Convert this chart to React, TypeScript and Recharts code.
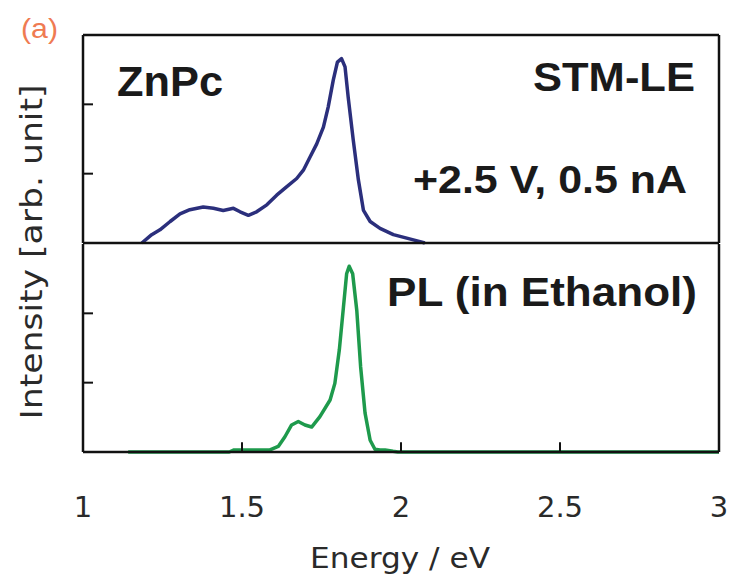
import { LineChart, Line, XAxis, YAxis, ReferenceLine } from 'recharts';

// STM light emission spectrum (top panel)
const stmEnergy = [
  1.185, 1.216, 1.242, 1.274, 1.305, 1.336, 1.378, 1.41, 1.441, 1.473, 1.494, 1.52, 1.546, 1.578,
  1.609, 1.64, 1.672, 1.693, 1.714, 1.735, 1.756, 1.771, 1.787, 1.8, 1.813, 1.824, 1.834, 1.85,
  1.866, 1.882, 1.903, 1.934, 1.976, 2.018, 2.06, 2.075,
];
const stmIntensity = [
  0, 0.12, 0.19, 0.31, 0.42, 0.48, 0.52, 0.5, 0.47, 0.5, 0.45, 0.4, 0.45, 0.55,
  0.69, 0.81, 0.93, 1.05, 1.24, 1.43, 1.67, 1.96, 2.35, 2.61, 2.66, 2.54, 2.1, 1.48,
  0.91, 0.47, 0.31, 0.21, 0.12, 0.07, 0.02, 0,
];

// photoluminescence spectrum in ethanol (bottom panel)
const plEnergy = [
  1.142, 1.46, 1.475, 1.58, 1.588, 1.614, 1.635, 1.656, 1.677, 1.698, 1.719, 1.745, 1.777, 1.792,
  1.806, 1.819, 1.829, 1.837, 1.848, 1.861, 1.873, 1.887, 1.903, 1.918, 1.934, 1.95, 1.975, 1.99, 3,
];
const plIntensity = [
  0, 0, 0.03, 0.03, 0.03, 0.08, 0.22, 0.39, 0.44, 0.39, 0.36, 0.51, 0.75, 0.99,
  1.47, 2.09, 2.57, 2.68, 2.57, 2.04, 1.23, 0.56, 0.17, 0.04, 0.03, 0.03, 0.01, 0, 0,
];

const energyTicks = [1, 1.5, 2, 2.5, 3];
const innerEnergyTicks = [1.5, 2, 2.5];
const intensityTicks = [1, 2];

const stmRows = stmEnergy.map((energy, i) => ({ energy, intensity: stmIntensity[i] }));
const plRows = plEnergy.map((energy, i) => ({ energy, intensity: plIntensity[i] }));

const W = 729;
const H = 582;
const frame = { stroke: '#111', strokeWidth: 2.5 };
const tickStroke = { stroke: '#111', strokeWidth: 2 };
const boldFont = "'Liberation Sans', Arial, sans-serif";
const plainFont = "'DejaVu Sans', sans-serif";
const noLabel = () => '';
// length of the inward energy ticks, in intensity units
const TICK_LEN = 0.14;

export default function App() {
  return (
    <div style={{ position: 'absolute', left: 0, top: 0, width: W, height: H, background: '#fff' }}>
      {/* upper panel */}
      <div style={{ position: 'absolute', left: 0, top: 0 }}>
        <LineChart width={W} height={H} data={stmRows} margin={{ top: 35, right: 10, bottom: H - 243, left: 83 }}>
          <XAxis dataKey="energy" type="number" domain={[1, 3]} ticks={energyTicks} mirror tick={false} tickLine={false} axisLine={frame} />
          <XAxis xAxisId="top" dataKey="energy" orientation="top" type="number" domain={[1, 3]} mirror tick={false} tickLine={false} axisLine={frame} />
          <YAxis type="number" domain={[0, 3]} ticks={intensityTicks} mirror tickFormatter={noLabel} tickSize={10} tickLine={tickStroke} axisLine={frame} />
          <YAxis yAxisId="right" orientation="right" type="number" domain={[0, 3]} mirror tick={false} tickLine={false} axisLine={frame} />
          <Line dataKey="intensity" type="linear" stroke="#2b2f7c" strokeWidth={3.5} strokeLinejoin="round" dot={false} isAnimationActive={false} />
          <text x={21} y={38} fontFamily={boldFont} fontSize={27} fill="#ef7b52" textLength={37} lengthAdjust="spacingAndGlyphs">(a)</text>
          <text x={117} y={96} fontFamily={boldFont} fontWeight="bold" fontSize={42} fill="#1a1a1a" textLength={106} lengthAdjust="spacingAndGlyphs">ZnPc</text>
          <text x={695} y={91} textAnchor="end" fontFamily={boldFont} fontWeight="bold" fontSize={40} fill="#1a1a1a" textLength={162} lengthAdjust="spacingAndGlyphs">STM-LE</text>
          <text x={687} y={193} textAnchor="end" fontFamily={boldFont} fontWeight="bold" fontSize={38} fill="#1a1a1a" textLength={274} lengthAdjust="spacingAndGlyphs">+2.5 V, 0.5 nA</text>
          <text x={42} y={252} transform="rotate(-90, 42, 252)" textAnchor="middle" fontFamily={plainFont} fontSize={30} fill="#2a2a2a" textLength={335} lengthAdjust="spacingAndGlyphs">Intensity [arb. unit]</text>
        </LineChart>
      </div>
      {/* lower panel */}
      <div style={{ position: 'absolute', left: 0, top: 0 }}>
        <LineChart width={W} height={H} data={plRows} margin={{ top: 244, right: 10, bottom: 10, left: 83 }}>
          <XAxis
            dataKey="energy"
            type="number"
            domain={[1, 3]}
            ticks={energyTicks}
            interval={0}
            height={120}
            tickLine={false}
            tickSize={6}
            tickMargin={38}
            axisLine={frame}
            tick={{ fontFamily: plainFont, fontSize: 29, fill: '#2a2a2a' }}
          />
          <YAxis type="number" domain={[0, 3]} ticks={intensityTicks} mirror tickFormatter={noLabel} tickSize={10} tickLine={tickStroke} axisLine={frame} />
          <YAxis yAxisId="right" orientation="right" type="number" domain={[0, 3]} mirror tick={false} tickLine={false} axisLine={frame} />
          <Line dataKey="intensity" type="linear" stroke="#1e9a4c" strokeWidth={3.5} strokeLinejoin="round" dot={false} isAnimationActive={false} />
          {/* inward tick marks along the energy axis, drawn over the trace */}
          {innerEnergyTicks.map((t) => (
            <ReferenceLine
              key={t}
              segment={[{ x: t, y: 0 }, { x: t, y: TICK_LEN }]}
              ifOverflow="visible"
              stroke="#111"
              strokeWidth={2}
            />
          ))}
          <text x={697} y={306} textAnchor="end" fontFamily={boldFont} fontWeight="bold" fontSize={40} fill="#1a1a1a" textLength={310} lengthAdjust="spacingAndGlyphs">PL (in Ethanol)</text>
          <text x={400} y={568} textAnchor="middle" fontFamily={plainFont} fontSize={28} fill="#2a2a2a" textLength={180} lengthAdjust="spacingAndGlyphs">Energy / eV</text>
        </LineChart>
      </div>
    </div>
  );
}
